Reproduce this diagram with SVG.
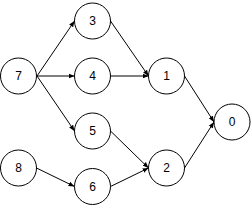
<svg xmlns="http://www.w3.org/2000/svg" width="251" height="209" viewBox="0 0 251 209">
<style>
.n circle{fill:#fff;stroke:#000;stroke-width:1}
.n text{font-family:"Liberation Sans",Arial,sans-serif;font-size:12px;text-anchor:middle;dominant-baseline:central;fill:#000}
#edges line{stroke:#000;stroke-width:1;marker-end:url(#a)}
</style>
<defs>
<marker id="a" viewBox="0 0 10 10" refX="10" refY="5" markerWidth="6" markerHeight="6" markerUnits="userSpaceOnUse" orient="auto">
<path d="M0,1 L10,5 L0,9 z" fill="#000"/>
</marker>
</defs>
<rect width="251" height="209" fill="#fff"/>
<g id="edges">
<line x1="37" y1="76" x2="74.5" y2="21"/>
<line x1="37" y1="76" x2="74.5" y2="76"/>
<line x1="37" y1="76" x2="74.5" y2="131"/>
<line x1="110.5" y1="21" x2="148.5" y2="76"/>
<line x1="110.5" y1="76" x2="148.5" y2="76"/>
<line x1="110.5" y1="131" x2="148.5" y2="168"/>
<line x1="36.5" y1="168" x2="74.5" y2="186.5"/>
<line x1="110.5" y1="186.5" x2="148.5" y2="168"/>
<line x1="184.5" y1="76" x2="214" y2="122"/>
<line x1="184.5" y1="168" x2="214" y2="122"/>
</g>
<g id="n7" class="n"><circle cx="18.5" cy="76" r="18"/><text x="18.5" y="76">7</text></g>
<g id="n3" class="n"><circle cx="92.5" cy="21" r="18"/><text x="92.5" y="21">3</text></g>
<g id="n4" class="n"><circle cx="92.5" cy="76" r="18"/><text x="92.5" y="76">4</text></g>
<g id="n5" class="n"><circle cx="92.5" cy="131" r="18"/><text x="92.5" y="131">5</text></g>
<g id="n8" class="n"><circle cx="18.5" cy="168" r="18"/><text x="18.5" y="168">8</text></g>
<g id="n6" class="n"><circle cx="92.5" cy="186.5" r="18"/><text x="92.5" y="186.5">6</text></g>
<g id="n1" class="n"><circle cx="166.5" cy="76" r="18"/><text x="166.5" y="76">1</text></g>
<g id="n2" class="n"><circle cx="166.5" cy="168" r="18"/><text x="166.5" y="168">2</text></g>
<g id="n0" class="n"><circle cx="232" cy="122" r="18"/><text x="232" y="122">0</text></g>
</svg>
